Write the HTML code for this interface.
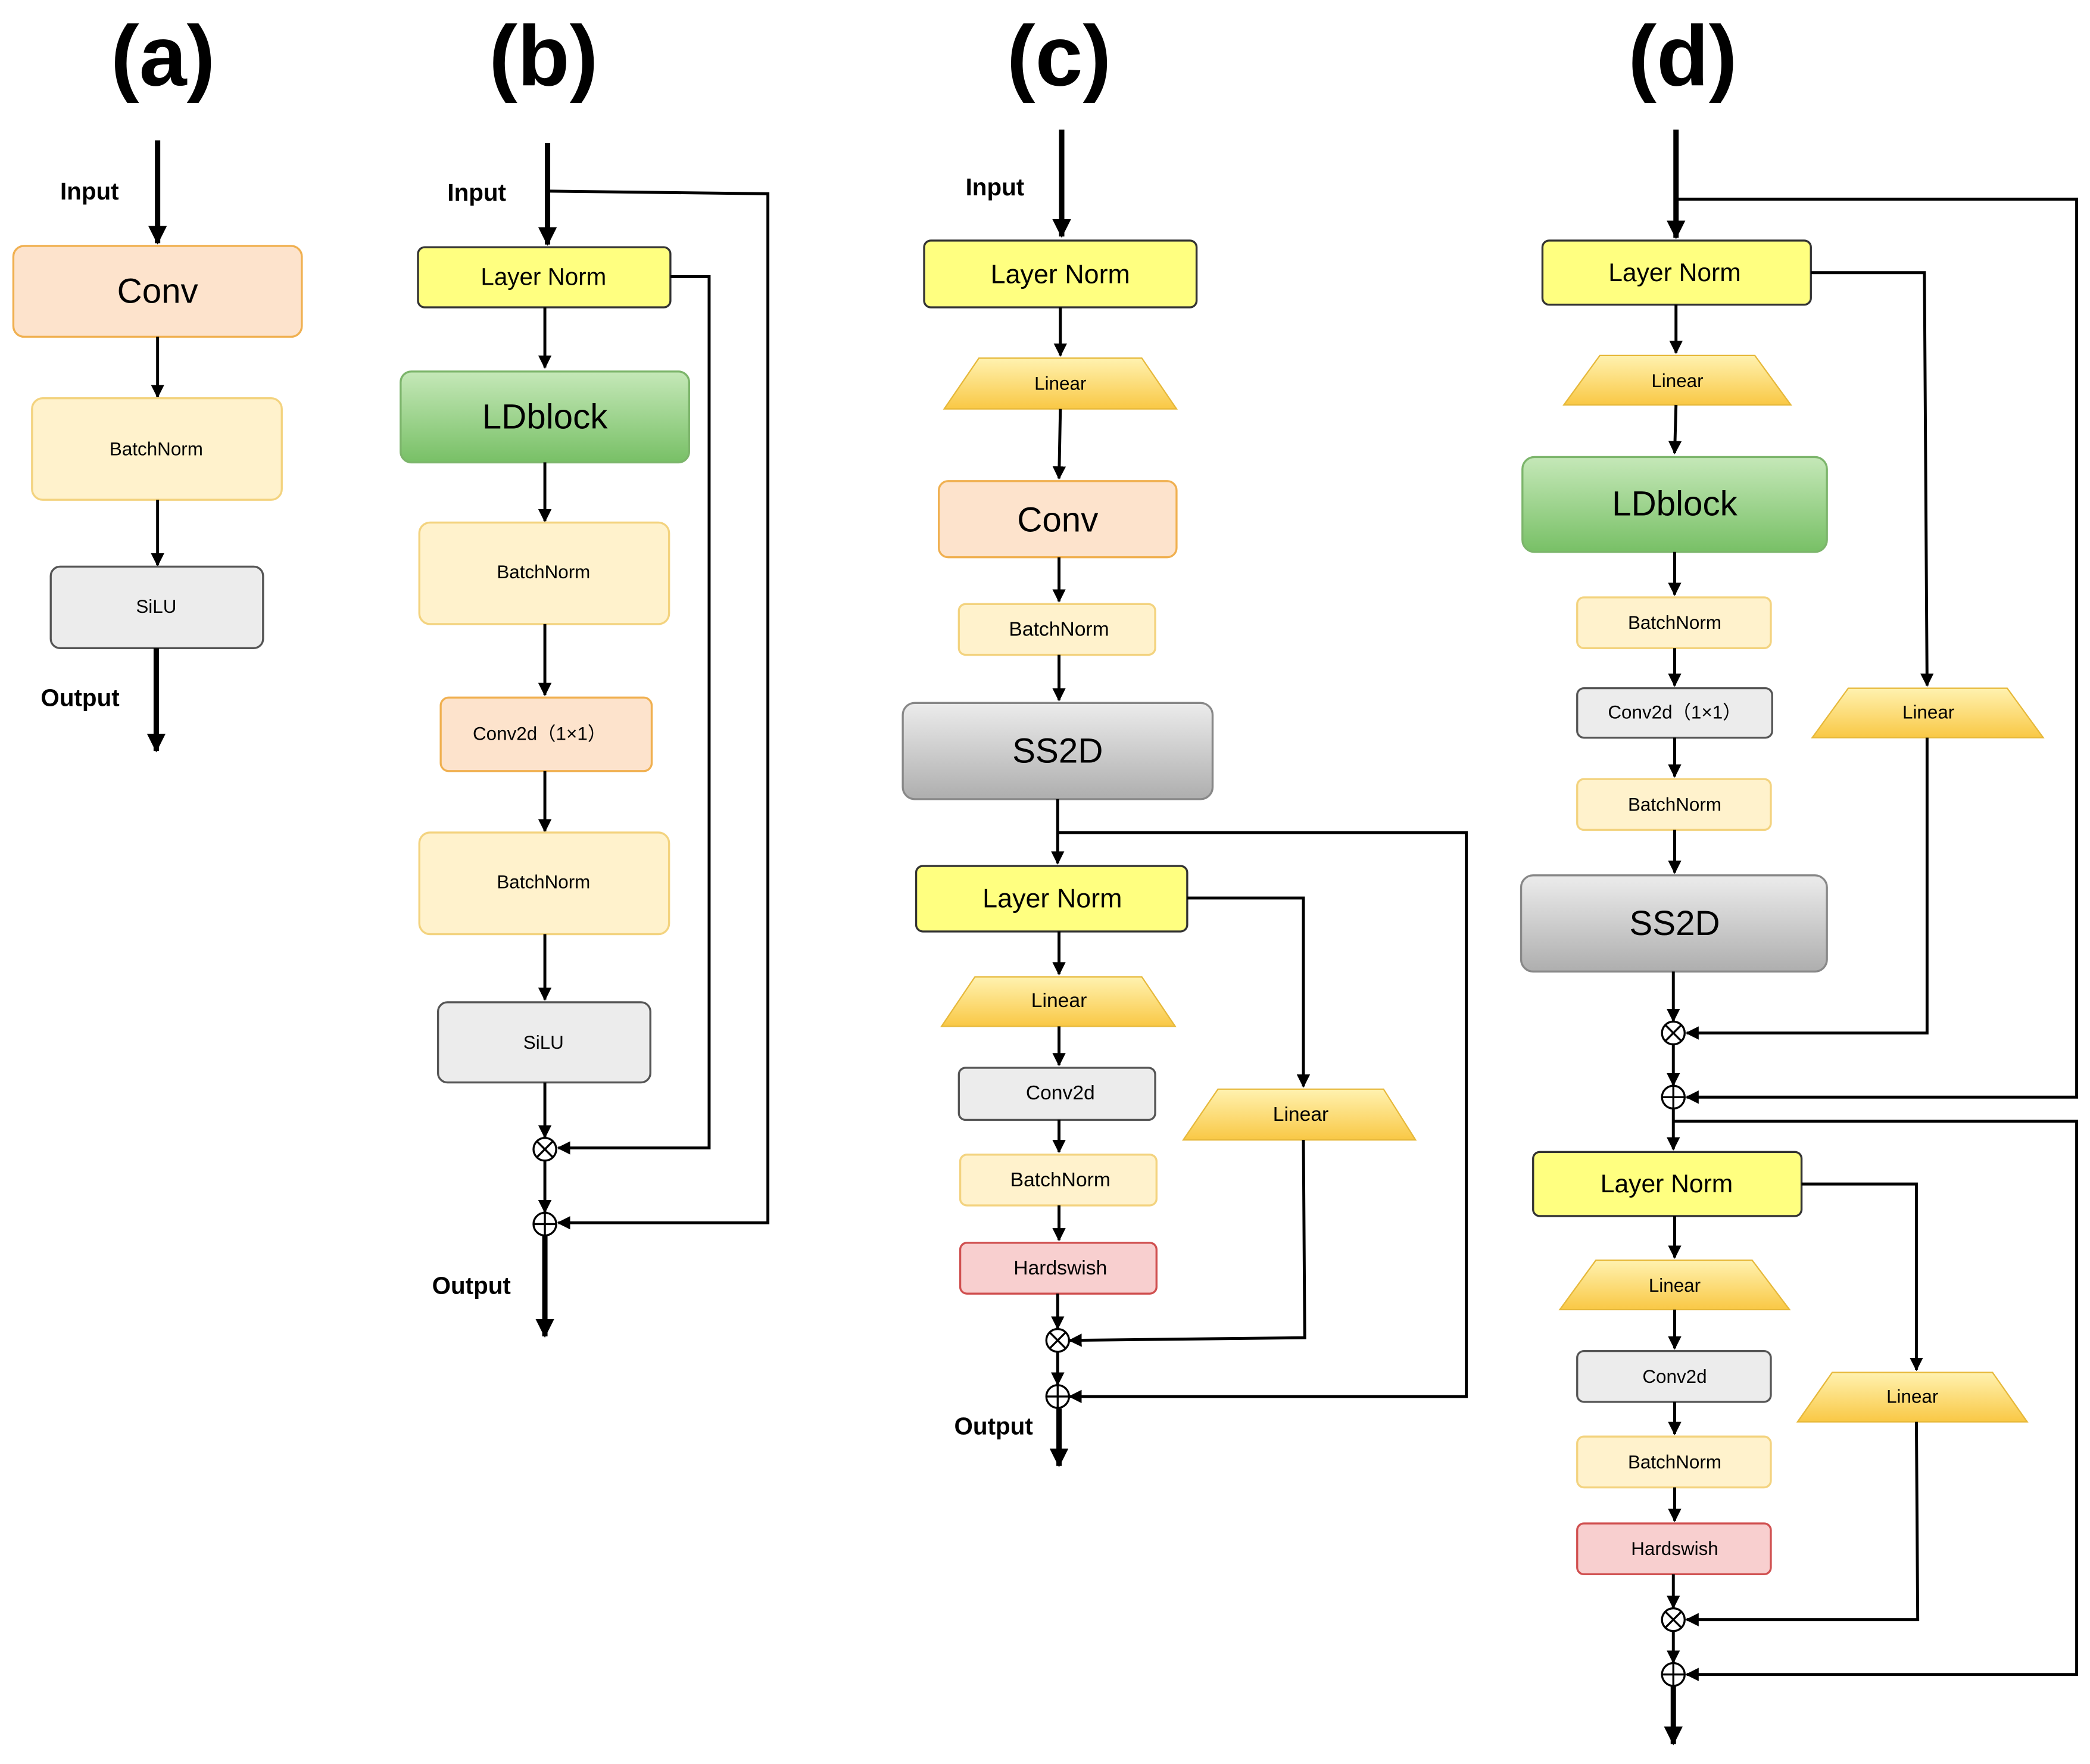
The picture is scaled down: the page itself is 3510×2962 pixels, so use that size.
<!DOCTYPE html>
<html><head><meta charset="utf-8"><style>
html,body{margin:0;padding:0;background:#fff}
svg{display:block}
text{font-family:"Liberation Sans",sans-serif;text-anchor:middle;dominant-baseline:central;fill:#000}
.t{font-size:64px;font-weight:bold}
.lb{font-size:18px;font-weight:bold}
.l{stroke:#000;stroke-width:2.2;fill:none}
.th{stroke:#000;stroke-width:4;fill:none}
.peach{fill:#fde3cc;stroke:#f0b050;stroke-width:1.5}
.bn{fill:#fff2cc;stroke:#f3d37f;stroke-width:1.5}
.gr{fill:#ececec;stroke:#555;stroke-width:1.5}
.ln{fill:#ffff80;stroke:#333;stroke-width:1.5}
.hs{fill:#f8cfcf;stroke:#d05050;stroke-width:1.5}
.lin{fill:url(#ylg);stroke:#e6b83a;stroke-width:1}
.ld{fill:url(#glg);stroke:#7cb56b;stroke-width:1.5}
.ss{fill:url(#slg);stroke:#888;stroke-width:1.5}
.op{fill:#fff;stroke:#000;stroke-width:1.5}
</style></head><body>
<svg width="3510" height="2962" viewBox="0 0 1565 1320" preserveAspectRatio="none" xmlns="http://www.w3.org/2000/svg">
<defs>
<marker id="a" markerWidth="10" markerHeight="10" refX="9" refY="5" orient="auto" markerUnits="userSpaceOnUse"><path d="M0,0 L10,5 L0,10 Z" fill="#000"/></marker>
<marker id="b" markerWidth="14" markerHeight="14" refX="13" refY="7" orient="auto" markerUnits="userSpaceOnUse"><path d="M0,0 L14,7 L0,14 Z" fill="#000"/></marker>
<linearGradient id="ylg" x1="0" y1="0" x2="0" y2="1"><stop offset="0" stop-color="#fff2b0"/><stop offset="1" stop-color="#f9c845"/></linearGradient>
<linearGradient id="glg" x1="0" y1="0" x2="0" y2="1"><stop offset="0" stop-color="#c5e8b8"/><stop offset="1" stop-color="#78c066"/></linearGradient>
<linearGradient id="slg" x1="0" y1="0" x2="0" y2="1"><stop offset="0" stop-color="#ececec"/><stop offset="1" stop-color="#aeaeae"/></linearGradient>
<g id="ot"><circle r="8.5" class="op"/><path d="M-6,-6 L6,6 M-6,6 L6,-6" stroke="#000" stroke-width="1.5"/></g>
<g id="op"><circle r="8.5" class="op"/><path d="M-8.5,0 L8.5,0 M0,-8.5 L0,8.5" stroke="#000" stroke-width="1.5"/></g>
</defs>

<!-- (a) -->
<text x="122" y="42" class="t">(a)</text>
<text x="67" y="143" class="lb">Input</text>
<line x1="118" y1="105" x2="118" y2="182" class="th" marker-end="url(#b)"/>
<rect x="10" y="184" width="216" height="68" rx="8" class="peach"/><text x="118" y="218" font-size="26">Conv</text>
<line x1="118" y1="252" x2="118" y2="297" class="l" marker-end="url(#a)"/>
<rect x="24" y="298" width="187" height="76" rx="8" class="bn"/><text x="117" y="336" font-size="14">BatchNorm</text>
<line x1="118" y1="374" x2="118" y2="423" class="l" marker-end="url(#a)"/>
<rect x="38" y="424" width="159" height="61" rx="7" class="gr"/><text x="117" y="454" font-size="14">SiLU</text>
<line x1="117" y1="485" x2="117" y2="562" class="th" marker-end="url(#b)"/>
<text x="60" y="522" class="lb">Output</text>

<!-- (b) -->
<text x="407" y="42" class="t">(b)</text>
<text x="357" y="144" class="lb">Input</text>
<line x1="410" y1="107" x2="410" y2="183" class="th" marker-end="url(#b)"/>
<polyline points="410,143 575,145 575,915 418,915" class="l" marker-end="url(#a)"/>
<rect x="313" y="185" width="189" height="45" rx="5" class="ln"/><text x="407" y="207" font-size="18">Layer Norm</text>
<polyline points="502,207 531,207 531,859 418,859" class="l" marker-end="url(#a)"/>
<line x1="408" y1="230" x2="408" y2="275" class="l" marker-end="url(#a)"/>
<rect x="300" y="278" width="216" height="68" rx="8" class="ld"/><text x="408" y="312" font-size="26">LDblock</text>
<line x1="408" y1="346" x2="408" y2="390" class="l" marker-end="url(#a)"/>
<rect x="314" y="391" width="187" height="76" rx="8" class="bn"/><text x="407" y="428" font-size="14">BatchNorm</text>
<line x1="408" y1="467" x2="408" y2="520" class="l" marker-end="url(#a)"/>
<rect x="330" y="522" width="158" height="55" rx="6" class="peach"/><text x="404" y="549" font-size="14">Conv2d（1×1）</text>
<line x1="408" y1="577" x2="408" y2="622" class="l" marker-end="url(#a)"/>
<rect x="314" y="623" width="187" height="76" rx="8" class="bn"/><text x="407" y="660" font-size="14">BatchNorm</text>
<line x1="408" y1="699" x2="408" y2="748" class="l" marker-end="url(#a)"/>
<rect x="328" y="750" width="159" height="60" rx="7" class="gr"/><text x="407" y="780" font-size="14">SiLU</text>
<line x1="408" y1="810" x2="408" y2="851" class="l" marker-end="url(#a)"/>
<use href="#ot" x="408" y="860"/>
<line x1="408" y1="869" x2="408" y2="907" class="l" marker-end="url(#a)"/>
<use href="#op" x="408" y="916"/>
<line x1="408" y1="925" x2="408" y2="1000" class="th" marker-end="url(#b)"/>
<text x="353" y="962" class="lb">Output</text>

<!-- (c) -->
<text x="793" y="42" class="t">(c)</text>
<text x="745" y="140" class="lb">Input</text>
<line x1="795" y1="97" x2="795" y2="177" class="th" marker-end="url(#b)"/>
<rect x="692" y="180" width="204" height="50" rx="5" class="ln"/><text x="794" y="205" font-size="20">Layer Norm</text>
<line x1="794" y1="230" x2="794" y2="266" class="l" marker-end="url(#a)"/>
<polygon points="733,268 855,268 881,306 707,306" class="lin"/><text x="794" y="287" font-size="14">Linear</text>
<line x1="794" y1="306" x2="793" y2="358" class="l" marker-end="url(#a)"/>
<rect x="703" y="360" width="178" height="57" rx="7" class="peach"/><text x="792" y="389" font-size="26">Conv</text>
<line x1="793" y1="417" x2="793" y2="450" class="l" marker-end="url(#a)"/>
<rect x="718" y="452" width="147" height="38" rx="5" class="bn"/><text x="793" y="471" font-size="15">BatchNorm</text>
<line x1="793" y1="490" x2="793" y2="524" class="l" marker-end="url(#a)"/>
<rect x="676" y="526" width="232" height="72" rx="9" class="ss"/><text x="792" y="562" font-size="26">SS2D</text>
<line x1="792" y1="598" x2="792" y2="646" class="l" marker-end="url(#a)"/>
<polyline points="792,623 1098,623 1098,1045 801,1045" class="l" marker-end="url(#a)"/>
<rect x="686" y="648" width="203" height="49" rx="5" class="ln"/><text x="788" y="672" font-size="20">Layer Norm</text>
<polyline points="889,672 976,672 976,813" class="l" marker-end="url(#a)"/>
<polygon points="912,815 1036,815 1060,853 886,853" class="lin"/><text x="974" y="834" font-size="15">Linear</text>
<polyline points="976,853 977,1001 801,1003" class="l" marker-end="url(#a)"/>
<line x1="793" y1="697" x2="793" y2="729" class="l" marker-end="url(#a)"/>
<polygon points="730,731 855,731 880,768 705,768" class="lin"/><text x="793" y="749" font-size="15">Linear</text>
<line x1="793" y1="768" x2="793" y2="797" class="l" marker-end="url(#a)"/>
<rect x="718" y="799" width="147" height="39" rx="5" class="gr"/><text x="794" y="818" font-size="15">Conv2d</text>
<line x1="793" y1="838" x2="793" y2="862" class="l" marker-end="url(#a)"/>
<rect x="719" y="864" width="147" height="38" rx="5" class="bn"/><text x="794" y="883" font-size="15">BatchNorm</text>
<line x1="793" y1="902" x2="793" y2="928" class="l" marker-end="url(#a)"/>
<rect x="719" y="930" width="147" height="38" rx="5" class="hs"/><text x="794" y="949" font-size="15">Hardswish</text>
<line x1="792" y1="968" x2="792" y2="994" class="l" marker-end="url(#a)"/>
<use href="#ot" x="792" y="1003"/>
<line x1="792" y1="1012" x2="792" y2="1036" class="l" marker-end="url(#a)"/>
<use href="#op" x="792" y="1045"/>
<line x1="793" y1="1054" x2="793" y2="1097" class="th" marker-end="url(#b)"/>
<text x="744" y="1067" class="lb">Output</text>

<!-- (d) -->
<text x="1260" y="42" class="t">(d)</text>
<line x1="1255" y1="97" x2="1255" y2="178" class="th" marker-end="url(#b)"/>
<polyline points="1255,149 1555,149 1555,821 1263,821" class="l" marker-end="url(#a)"/>
<rect x="1155" y="180" width="201" height="48" rx="5" class="ln"/><text x="1254" y="204" font-size="19">Layer Norm</text>
<polyline points="1356,204 1441,204 1443,513" class="l" marker-end="url(#a)"/>
<polygon points="1384,515 1503,515 1530,552 1357,552" class="lin"/><text x="1444" y="533" font-size="14">Linear</text>
<polyline points="1443,552 1443,773 1263,773" class="l" marker-end="url(#a)"/>
<line x1="1255" y1="228" x2="1255" y2="264" class="l" marker-end="url(#a)"/>
<polygon points="1198,266 1314,266 1341,303 1171,303" class="lin"/><text x="1256" y="285" font-size="14">Linear</text>
<line x1="1255" y1="303" x2="1254" y2="339" class="l" marker-end="url(#a)"/>
<rect x="1140" y="342" width="228" height="71" rx="9" class="ld"/><text x="1254" y="377" font-size="26">LDblock</text>
<line x1="1254" y1="413" x2="1254" y2="445" class="l" marker-end="url(#a)"/>
<rect x="1181" y="447" width="145" height="38" rx="5" class="bn"/><text x="1254" y="466" font-size="14">BatchNorm</text>
<line x1="1254" y1="485" x2="1254" y2="513" class="l" marker-end="url(#a)"/>
<rect x="1181" y="515" width="146" height="37" rx="5" class="gr"/><text x="1254" y="533" font-size="14">Conv2d（1×1）</text>
<line x1="1254" y1="552" x2="1254" y2="581" class="l" marker-end="url(#a)"/>
<rect x="1181" y="583" width="145" height="38" rx="5" class="bn"/><text x="1254" y="602" font-size="14">BatchNorm</text>
<line x1="1254" y1="621" x2="1254" y2="653" class="l" marker-end="url(#a)"/>
<rect x="1139" y="655" width="229" height="72" rx="9" class="ss"/><text x="1254" y="691" font-size="26">SS2D</text>
<line x1="1253" y1="727" x2="1253" y2="764" class="l" marker-end="url(#a)"/>
<use href="#ot" x="1253" y="773"/>
<line x1="1253" y1="782" x2="1253" y2="812" class="l" marker-end="url(#a)"/>
<use href="#op" x="1253" y="821"/>
<line x1="1253" y1="830" x2="1253" y2="860" class="l" marker-end="url(#a)"/>
<polyline points="1253,839 1555,839 1555,1253 1263,1253" class="l" marker-end="url(#a)"/>
<rect x="1148" y="862" width="201" height="48" rx="5" class="ln"/><text x="1248" y="886" font-size="19">Layer Norm</text>
<polyline points="1349,886 1435,886 1435,1025" class="l" marker-end="url(#a)"/>
<polygon points="1372,1027 1492,1027 1518,1064 1346,1064" class="lin"/><text x="1432" y="1045" font-size="14">Linear</text>
<polyline points="1435,1064 1436,1212 1263,1212" class="l" marker-end="url(#a)"/>
<line x1="1254" y1="910" x2="1254" y2="941" class="l" marker-end="url(#a)"/>
<polygon points="1195,943 1312,943 1340,980 1168,980" class="lin"/><text x="1254" y="962" font-size="14">Linear</text>
<line x1="1254" y1="980" x2="1254" y2="1009" class="l" marker-end="url(#a)"/>
<rect x="1181" y="1011" width="145" height="38" rx="5" class="gr"/><text x="1254" y="1030" font-size="14">Conv2d</text>
<line x1="1254" y1="1049" x2="1254" y2="1073" class="l" marker-end="url(#a)"/>
<rect x="1181" y="1075" width="145" height="38" rx="5" class="bn"/><text x="1254" y="1094" font-size="14">BatchNorm</text>
<line x1="1254" y1="1113" x2="1254" y2="1138" class="l" marker-end="url(#a)"/>
<rect x="1181" y="1140" width="145" height="38" rx="5" class="hs"/><text x="1254" y="1159" font-size="14">Hardswish</text>
<line x1="1253" y1="1178" x2="1253" y2="1203" class="l" marker-end="url(#a)"/>
<use href="#ot" x="1253" y="1212"/>
<line x1="1253" y1="1221" x2="1253" y2="1244" class="l" marker-end="url(#a)"/>
<use href="#op" x="1253" y="1253"/>
<line x1="1253" y1="1262" x2="1253" y2="1305" class="th" marker-end="url(#b)"/>
</svg>
</body></html>
